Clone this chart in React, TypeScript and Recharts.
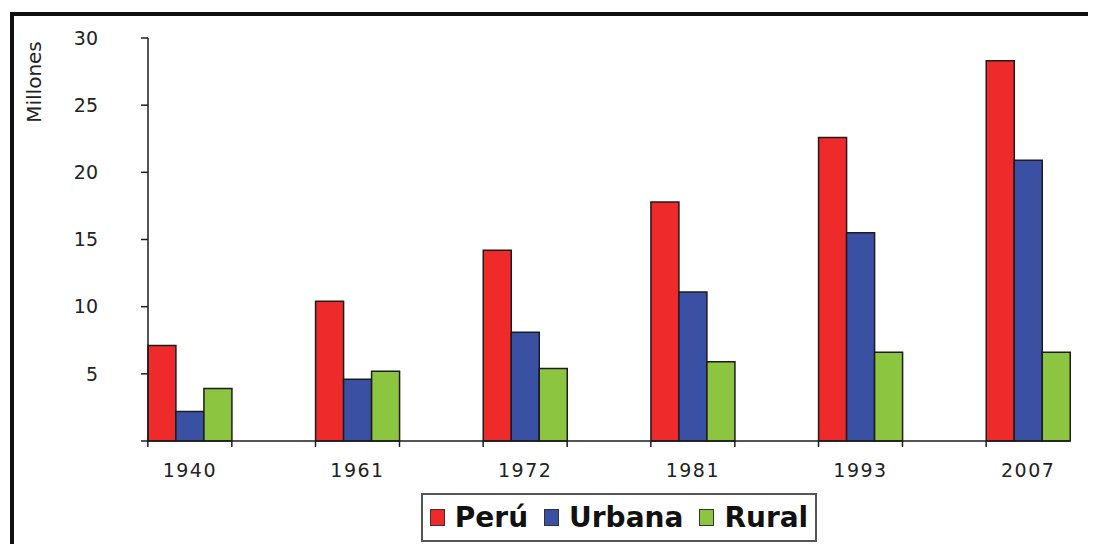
import { BarChart, Bar, XAxis, YAxis } from "recharts";

// Población censada (millones)
const years = ["1940", "1961", "1972", "1981", "1993", "2007"];
const peru = [7.1, 10.4, 14.2, 17.8, 22.6, 28.3];
const urbana = [2.2, 4.6, 8.1, 11.1, 15.5, 20.9];
const rural = [3.9, 5.2, 5.4, 5.9, 6.6, 6.6];
const seriesKeys = ["peru", "urbana", "rural"];
const seriesNames = ["Perú", "Urbana", "Rural"];
const yTicks = [0, 5, 10, 15, 20, 25, 30];

const COLORS = ["#EE2B2A", "#3A51A3", "#8CC53F"];
const INK = "#1c1c1c";
const FONT = "'DejaVu Sans', Verdana, sans-serif";

const data = years.map((year, i) => ({
  year,
  peru: peru[i],
  urbana: urbana[i],
  rural: rural[i],
}));

// tick marks sit at the edges of each group, label in the middle
const YearTick = (props: any) => {
  const { x, y, payload, index } = props;
  const half = 42;
  return (
    <g>
      <line x1={x - half} x2={x - half} y1={y} y2={y + 6} stroke={INK} strokeWidth={1.5} />
      {index < years.length - 1 && (
        <line x1={x + half} x2={x + half} y1={y} y2={y + 6} stroke={INK} strokeWidth={1.5} />
      )}
      <text
        x={x}
        y={y + 36}
        textAnchor="middle"
        fill="#222"
        fontSize={19}
        letterSpacing={1.5}
        fontFamily={FONT}
      >
        {payload.value}
      </text>
    </g>
  );
};

const YLabel = (props: any) => {
  const vb = props.viewBox || { x: 0, y: 30 };
  const x = vb.x + 26;
  const y = vb.y + 44;
  return (
    <text
      x={x}
      y={y}
      transform={`rotate(-90 ${x} ${y})`}
      textAnchor="middle"
      dominantBaseline="central"
      fill="#222"
      fontSize={20}
      fontFamily={FONT}
    >
      Millones
    </text>
  );
};

export default function App() {
  return (
    <div
      style={{
        position: "relative",
        width: 1088,
        height: 536,
        overflow: "hidden",
        background: "#fff",
      }}
    >
      <div
        style={{
          position: "absolute",
          left: 2,
          top: 4,
          width: 1200,
          height: 700,
          border: "4px solid #111",
        }}
      />
      <div style={{ position: "absolute", left: 0, top: 0 }}>
        <BarChart
          width={1088}
          height={536}
          data={data}
          margin={{ top: 30, right: 26, bottom: 73, left: 0 }}
          barGap={0}
          barCategoryGap="25%"
        >
          <XAxis
            dataKey="year"
            height={30}
            padding={{ left: -42, right: -42 }}
            tickSize={0}
            tickMargin={0}
            tickLine={false}
            axisLine={{ stroke: INK, strokeWidth: 1.5 }}
            tick={<YearTick />}
            interval={0}
          />
          <YAxis
            domain={[0, 30]}
            ticks={yTicks}
            tickFormatter={(v: number) => (v === 0 ? "" : String(v))}
            width={140}
            tickSize={7}
            tickMargin={43}
            axisLine={{ stroke: INK, strokeWidth: 1.5 }}
            tickLine={{ stroke: INK, strokeWidth: 1.5 }}
            tick={{ fill: "#222", fontSize: 19, fontFamily: FONT }}
            label={<YLabel />}
          />
          {seriesKeys.map((key, i) => (
            <Bar
              key={key}
              dataKey={key}
              name={seriesNames[i]}
              fill={COLORS[i]}
              stroke={INK}
              strokeWidth={1.5}
              isAnimationActive={false}
            />
          ))}
        </BarChart>
      </div>
      {/* leyenda */}
      <div
        style={{
          position: "absolute",
          left: 413,
          top: 485,
          width: 392,
          height: 45,
          border: "2px solid #555",
          display: "flex",
          alignItems: "center",
          justifyContent: "center",
          gap: 16,
          fontFamily: FONT,
          fontWeight: "bold",
          fontSize: 28,
          color: "#111",
        }}
      >
        {seriesNames.map((name, i) => (
          <div key={name} style={{ display: "flex", alignItems: "center", gap: 10 }}>
            <span
              style={{
                display: "inline-block",
                width: 13,
                height: 15,
                background: COLORS[i],
                border: "1px solid #333",
              }}
            />
            <span>{name}</span>
          </div>
        ))}
      </div>
    </div>
  );
}
